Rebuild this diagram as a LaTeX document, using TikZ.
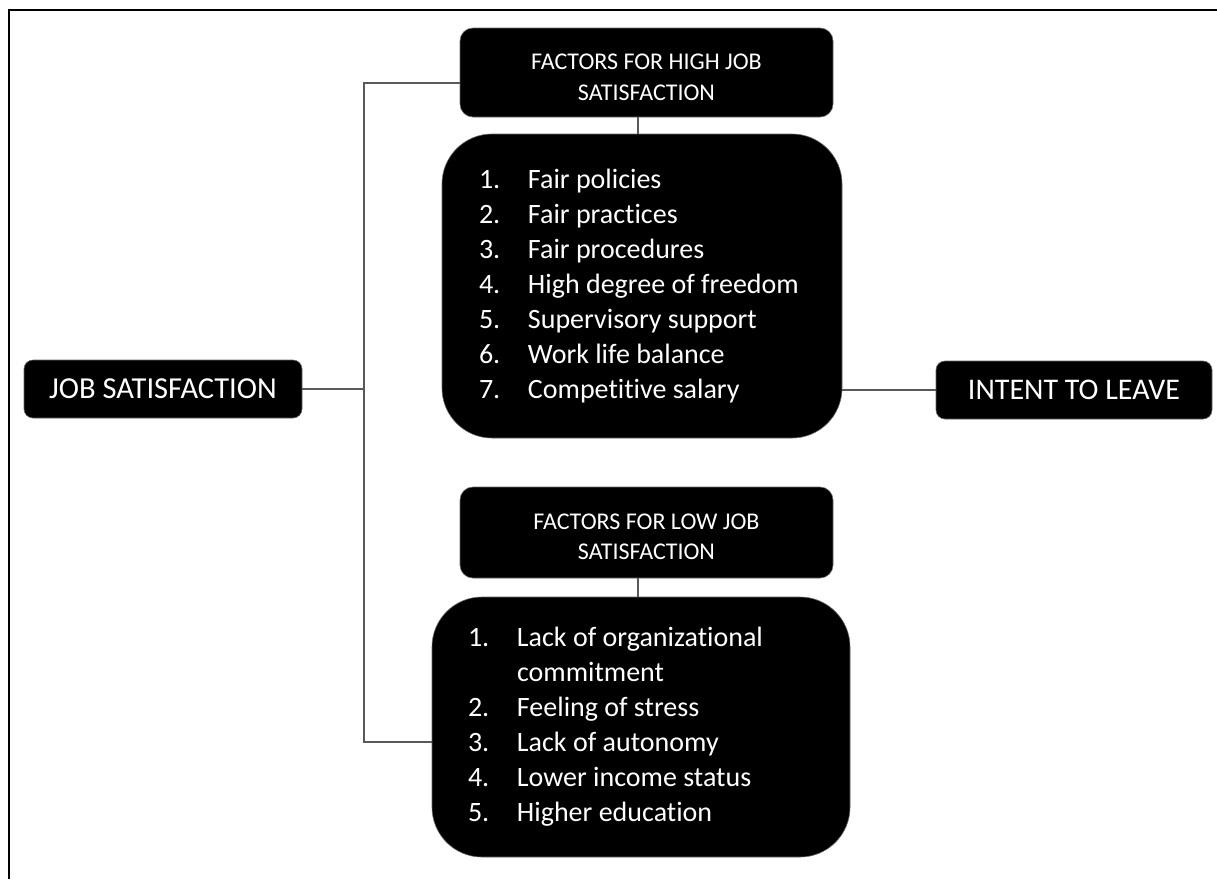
\documentclass[tikz,border=0pt]{standalone}
\usepackage{fontspec}
\setmainfont{Carlito}[Ligatures={NoCommon,NoContextual}]
\newcommand\myitem[2]{\makebox[49pt][l]{#1}#2}
\newcommand\hdr[2]{\raisebox{-6pt}[\height][\depth]{\begin{tabular}{@{}c@{}}#1\\#2\end{tabular}}}
\begin{document}
\begin{tikzpicture}[x=1pt,y=-1pt,
  box/.style={fill=black, draw=black!60, line width=0.6pt, text=white, inner sep=0pt},
  conn/.style={draw=black!65, line width=1.1pt},
  frame/.style={draw=black, line width=2pt}]
\useasboundingbox (0,0) rectangle (1217,879);
\fill[white] (0,0) rectangle (1217,879);
\draw[frame] (9,879) -- (9,10) -- (1217,10);

% main nodes
\node[box, rounded corners=9pt, minimum width=278pt, minimum height=58pt,
      font=\fontsize{30.5}{36}\selectfont] (job) at (163,389) {JOB SATISFACTION};
\node[box, rounded corners=9pt, minimum width=276pt, minimum height=58pt,
      font=\fontsize{30}{36}\selectfont] (leave) at (1074,390) {INTENT TO LEAVE};

\node[box, rounded corners=13pt, minimum width=373pt, minimum height=89pt,
      font=\fontsize{24}{31}\selectfont] (hh) at (646.5,72.5) {\hdr{FACTORS FOR HIGH JOB}{SATISFACTION}};
\node[box, rounded corners=13pt, minimum width=373pt, minimum height=91pt,
      font=\fontsize{24}{30}\selectfont] (lh) at (646.5,532.5) {\hdr{FACTORS FOR LOW JOB}{SATISFACTION}};

\node[box, rounded corners=50pt, minimum width=400pt, minimum height=304pt,
      text width=326pt, align=flush left, font=\fontsize{28}{35}\selectfont] (hl) at (642,286) {%
  \myitem{1.}{Fair policies}\\
  \myitem{2.}{Fair practices}\\
  \myitem{3.}{Fair procedures}\\
  \myitem{4.}{High degree of freedom}\\
  \myitem{5.}{Supervisory support}\\
  \myitem{6.}{Work life balance}\\
  \myitem{7.}{Competitive salary}};

\node[box, rounded corners=50pt, minimum width=418pt, minimum height=260pt,
      text width=346pt, align=flush left, font=\fontsize{28}{35}\selectfont] (ll) at (641,727) {%
  \myitem{1.}{Lack of organizational}\\
  \hspace*{49pt}commitment\\
  \myitem{2.}{Feeling of stress}\\
  \myitem{3.}{Lack of autonomy}\\
  \myitem{4.}{Lower income status}\\
  \myitem{5.}{Higher education}};

% connectors
\coordinate (sT) at (364,83);
\coordinate (sB) at (364,742);
\coordinate (mx) at (638,0);
\draw[conn] (hh.west |- sT) -- (sT) -- (sB) -- (ll.west |- sB);
\draw[conn] (job.east) -- (job.east -| sT);
\draw[conn] (hh.south -| mx) -- (hl.north -| mx);
\draw[conn] (lh.south -| mx) -- (ll.north -| mx);
\draw[conn] (leave.west) -- (leave.west -| hl.east);
\end{tikzpicture}
\end{document}
